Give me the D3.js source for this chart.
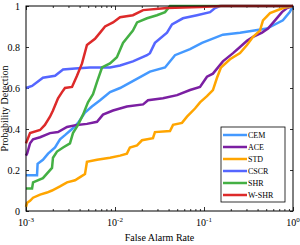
<!DOCTYPE html>
<html>
<head>
<meta charset="utf-8">
<script src="https://cdn.jsdelivr.net/npm/d3@7"></script>
<style>
  body { margin: 0; background: #fff; }
  text { font-family: "Liberation Serif", "Times New Roman", serif; fill: #000; }
</style>
</head>
<body>
<div id="chart"></div>
<script>
// ROC curves, false alarm rate (log) vs probability of detection
var names = ["CEM", "ACE", "STD", "CSCR", "SHR", "W-SHR"];
var colors = ["#4499ff", "#7b1fa2", "#ffa500", "#5566ff", "#44b044", "#dd2a2a"];

var cemFar = [0.001, 0.00133, 0.00135, 0.00155, 0.00177, 0.00212, 0.00241, 0.00274, 0.00329, 0.00384, 0.0046, 0.0055, 0.0068, 0.0088, 0.0114, 0.0168, 0.0247, 0.0365, 0.0472, 0.0697, 0.095, 0.163, 0.254, 0.51, 0.77, 0.92, 1];
var cemPd  = [0.175, 0.175, 0.23, 0.25, 0.28, 0.31, 0.35, 0.37, 0.40, 0.43, 0.48, 0.51, 0.54, 0.58, 0.60, 0.64, 0.68, 0.70, 0.76, 0.79, 0.82, 0.86, 0.87, 0.89, 0.93, 0.97, 1];

var aceFar = [0.001, 0.00103, 0.00111, 0.0012, 0.00144, 0.00186, 0.00229, 0.00289, 0.00374, 0.00484, 0.00628, 0.00733, 0.0095, 0.0136, 0.0207, 0.0235, 0.0346, 0.0498, 0.0697, 0.0902, 0.108, 0.126, 0.163, 0.212, 0.254, 0.304, 0.356, 0.449, 0.524, 0.628, 0.751, 0.857, 1];
var acePd  = [0.27, 0.28, 0.33, 0.35, 0.36, 0.38, 0.385, 0.41, 0.42, 0.425, 0.435, 0.47, 0.49, 0.51, 0.52, 0.54, 0.55, 0.565, 0.59, 0.605, 0.655, 0.67, 0.73, 0.77, 0.80, 0.83, 0.85, 0.87, 0.89, 0.93, 0.97, 0.99, 1];

var stdFar = [0.001, 0.00103, 0.00111, 0.0012, 0.00144, 0.00172, 0.00196, 0.00241, 0.00289, 0.00356, 0.00405, 0.0046, 0.00484, 0.00628, 0.00879, 0.0114, 0.0136, 0.0147, 0.0177, 0.0201, 0.0267, 0.0281, 0.0415, 0.0449, 0.0566, 0.0644, 0.0792, 0.0902, 0.108, 0.126, 0.14, 0.155, 0.196, 0.254, 0.304, 0.356, 0.425, 0.46, 0.552, 0.773, 1];
var stdPd  = [0.02, 0.04, 0.05, 0.065, 0.08, 0.09, 0.10, 0.12, 0.14, 0.15, 0.165, 0.18, 0.24, 0.25, 0.26, 0.27, 0.28, 0.31, 0.32, 0.345, 0.355, 0.385, 0.39, 0.42, 0.43, 0.46, 0.50, 0.53, 0.56, 0.59, 0.65, 0.70, 0.74, 0.77, 0.81, 0.85, 0.88, 0.93, 0.965, 0.99, 1];

var cscrFar = [0.001, 0.00117, 0.00155, 0.00212, 0.00261, 0.00356, 0.00524, 0.00879, 0.0114, 0.0159, 0.0229, 0.0247, 0.0281, 0.0384, 0.0437, 0.058, 0.0834, 0.117, 0.133, 0.151, 1];
var cscrPd  = [0.60, 0.61, 0.65, 0.66, 0.69, 0.695, 0.70, 0.70, 0.71, 0.73, 0.76, 0.77, 0.82, 0.87, 0.91, 0.94, 0.955, 0.97, 0.99, 1, 1];

var shrFar = [0.001, 0.00117, 0.0012, 0.00155, 0.00196, 0.00201, 0.00223, 0.00261, 0.00312, 0.00337, 0.00384, 0.00437, 0.00497, 0.00566, 0.00628, 0.00715, 0.00879, 0.0105, 0.0123, 0.0159, 0.0177, 0.0229, 0.0296, 0.0365, 0.0415, 1];
var shrPd  = [0.11, 0.11, 0.14, 0.16, 0.21, 0.26, 0.29, 0.31, 0.33, 0.38, 0.42, 0.47, 0.53, 0.57, 0.63, 0.70, 0.72, 0.75, 0.82, 0.88, 0.92, 0.94, 0.955, 0.97, 1, 1];

var wshrFar = [0.001, 0.00111, 0.00144, 0.00163, 0.00186, 0.00201, 0.00229, 0.00254, 0.00274, 0.00329, 0.00374, 0.00426, 0.00484, 0.00596, 0.0068, 0.00773, 0.0095, 0.0114, 0.0159, 0.0207, 0.0384, 0.0902, 0.159, 1];
var wshrPd  = [0.33, 0.38, 0.395, 0.42, 0.46, 0.49, 0.55, 0.58, 0.60, 0.605, 0.66, 0.72, 0.81, 0.84, 0.87, 0.90, 0.92, 0.945, 0.955, 0.98, 0.99, 0.995, 1, 1];

var xTicks = [0.001, 0.01, 0.1, 1];
var xTickExp = ["-3", "-2", "-1", "0"];
var yTicks = [0, 0.2, 0.4, 0.6, 0.8, 1];
var yTickLabels = ["0", "0.2", "0.4", "0.6", "0.8", "1"];

var allFar = [cemFar, aceFar, stdFar, cscrFar, shrFar, wshrFar];
var allPd = [cemPd, acePd, stdPd, cscrPd, shrPd, wshrPd];

var margin = { top: 6, right: 7, bottom: 34, left: 26 },
  width = 300 - margin.left - margin.right,
  height = 245 - margin.top - margin.bottom;

var svg = d3
  .select("#chart")
  .append("svg")
  .attr("width", 300)
  .attr("height", 245)
  .append("g")
  .attr("transform", "translate(" + margin.left + "," + margin.top + ")");

var x = d3.scaleLog().domain([0.001, 1]).range([0, width]);
var y = d3.scaleLinear().domain([0, 1]).range([height, 0]);

// minor ticks for the log axis
var minor = [];
xTicks.slice(0, 3).forEach(function(d) {
  for (var k = 2; k <= 9; k++) minor.push(d * k);
});

function tidy(g) {
  g.select(".domain").remove();
  g.selectAll("line").attr("stroke", "#000").attr("stroke-width", 0.8);
}

// bottom + top, ticks pointing inward
svg.append("g").attr("transform", "translate(0," + height + ")")
  .call(d3.axisBottom(x).tickValues(xTicks).tickSize(-4).tickFormat(""))
  .call(tidy);
svg.append("g").attr("transform", "translate(0," + height + ")")
  .call(d3.axisBottom(x).tickValues(minor).tickSize(-2).tickFormat(""))
  .call(tidy);
svg.append("g")
  .call(d3.axisTop(x).tickValues(xTicks).tickSize(-4).tickFormat(""))
  .call(tidy);
svg.append("g")
  .call(d3.axisTop(x).tickValues(minor).tickSize(-2).tickFormat(""))
  .call(tidy);

// left + right
svg.append("g")
  .call(d3.axisLeft(y).tickValues(yTicks).tickSize(-3).tickPadding(6)
    .tickFormat(function(d, i) { return yTickLabels[i]; }))
  .call(tidy)
  .selectAll("text")
  .attr("font-size", 10)
  .attr("font-family", "Liberation Serif, serif");
svg.append("g").attr("transform", "translate(" + width + ",0)")
  .call(d3.axisRight(y).tickValues(yTicks).tickSize(-3).tickFormat(""))
  .call(tidy);

// x tick labels with exponents
var xl = svg.append("g").selectAll("text")
  .data(xTicks)
  .enter()
  .append("text")
  .attr("x", function(d) { return x(d); })
  .attr("y", height + 15)
  .attr("text-anchor", "middle")
  .attr("font-size", 10);
xl.append("tspan").text("10");
xl.append("tspan")
  .attr("dy", -4)
  .attr("font-size", 7)
  .text(function(d, i) { return xTickExp[i]; });

// curves
var line = d3.line()
  .x(function(d) { return x(d[0]); })
  .y(function(d) { return y(d[1]); });

names.forEach(function(n, i) {
  var pts = allFar[i].map(function(f, j) { return [f, allPd[i][j]]; });
  svg.append("path")
    .datum(pts)
    .attr("fill", "none")
    .attr("stroke", colors[i])
    .attr("stroke-width", 2.5)
    .attr("stroke-linejoin", "miter")
    .attr("d", line);
});

// box
svg.append("rect")
  .attr("width", width)
  .attr("height", height)
  .attr("fill", "none")
  .attr("stroke", "#000")
  .attr("stroke-width", 1);

// axis titles
svg.append("text")
  .attr("x", width / 2)
  .attr("y", height + 30)
  .attr("text-anchor", "middle")
  .attr("font-size", 10)
  .text("False Alarm Rate");

svg.append("text")
  .attr("transform", "translate(-18," + height / 2 + ") rotate(-90)")
  .attr("text-anchor", "middle")
  .attr("font-size", 10)
  .text("Probability Detection");

// legend
var lg = svg.append("g").attr("transform", "translate(" + (221 - margin.left) + "," + (127 - margin.top) + ")");
lg.append("rect")
  .attr("width", 64)
  .attr("height", 75)
  .attr("fill", "#fff")
  .attr("stroke", "#000")
  .attr("stroke-width", 0.8);
names.forEach(function(n, i) {
  var row = lg.append("g").attr("transform", "translate(0," + (8 + i * 12) + ")");
  row.append("line")
    .attr("x1", 2).attr("x2", 26)
    .attr("stroke", colors[i])
    .attr("stroke-width", 2.5);
  row.append("text")
    .attr("x", 27)
    .attr("y", 3)
    .attr("font-size", 8)
    .text(n);
});
</script>
</body>
</html>
